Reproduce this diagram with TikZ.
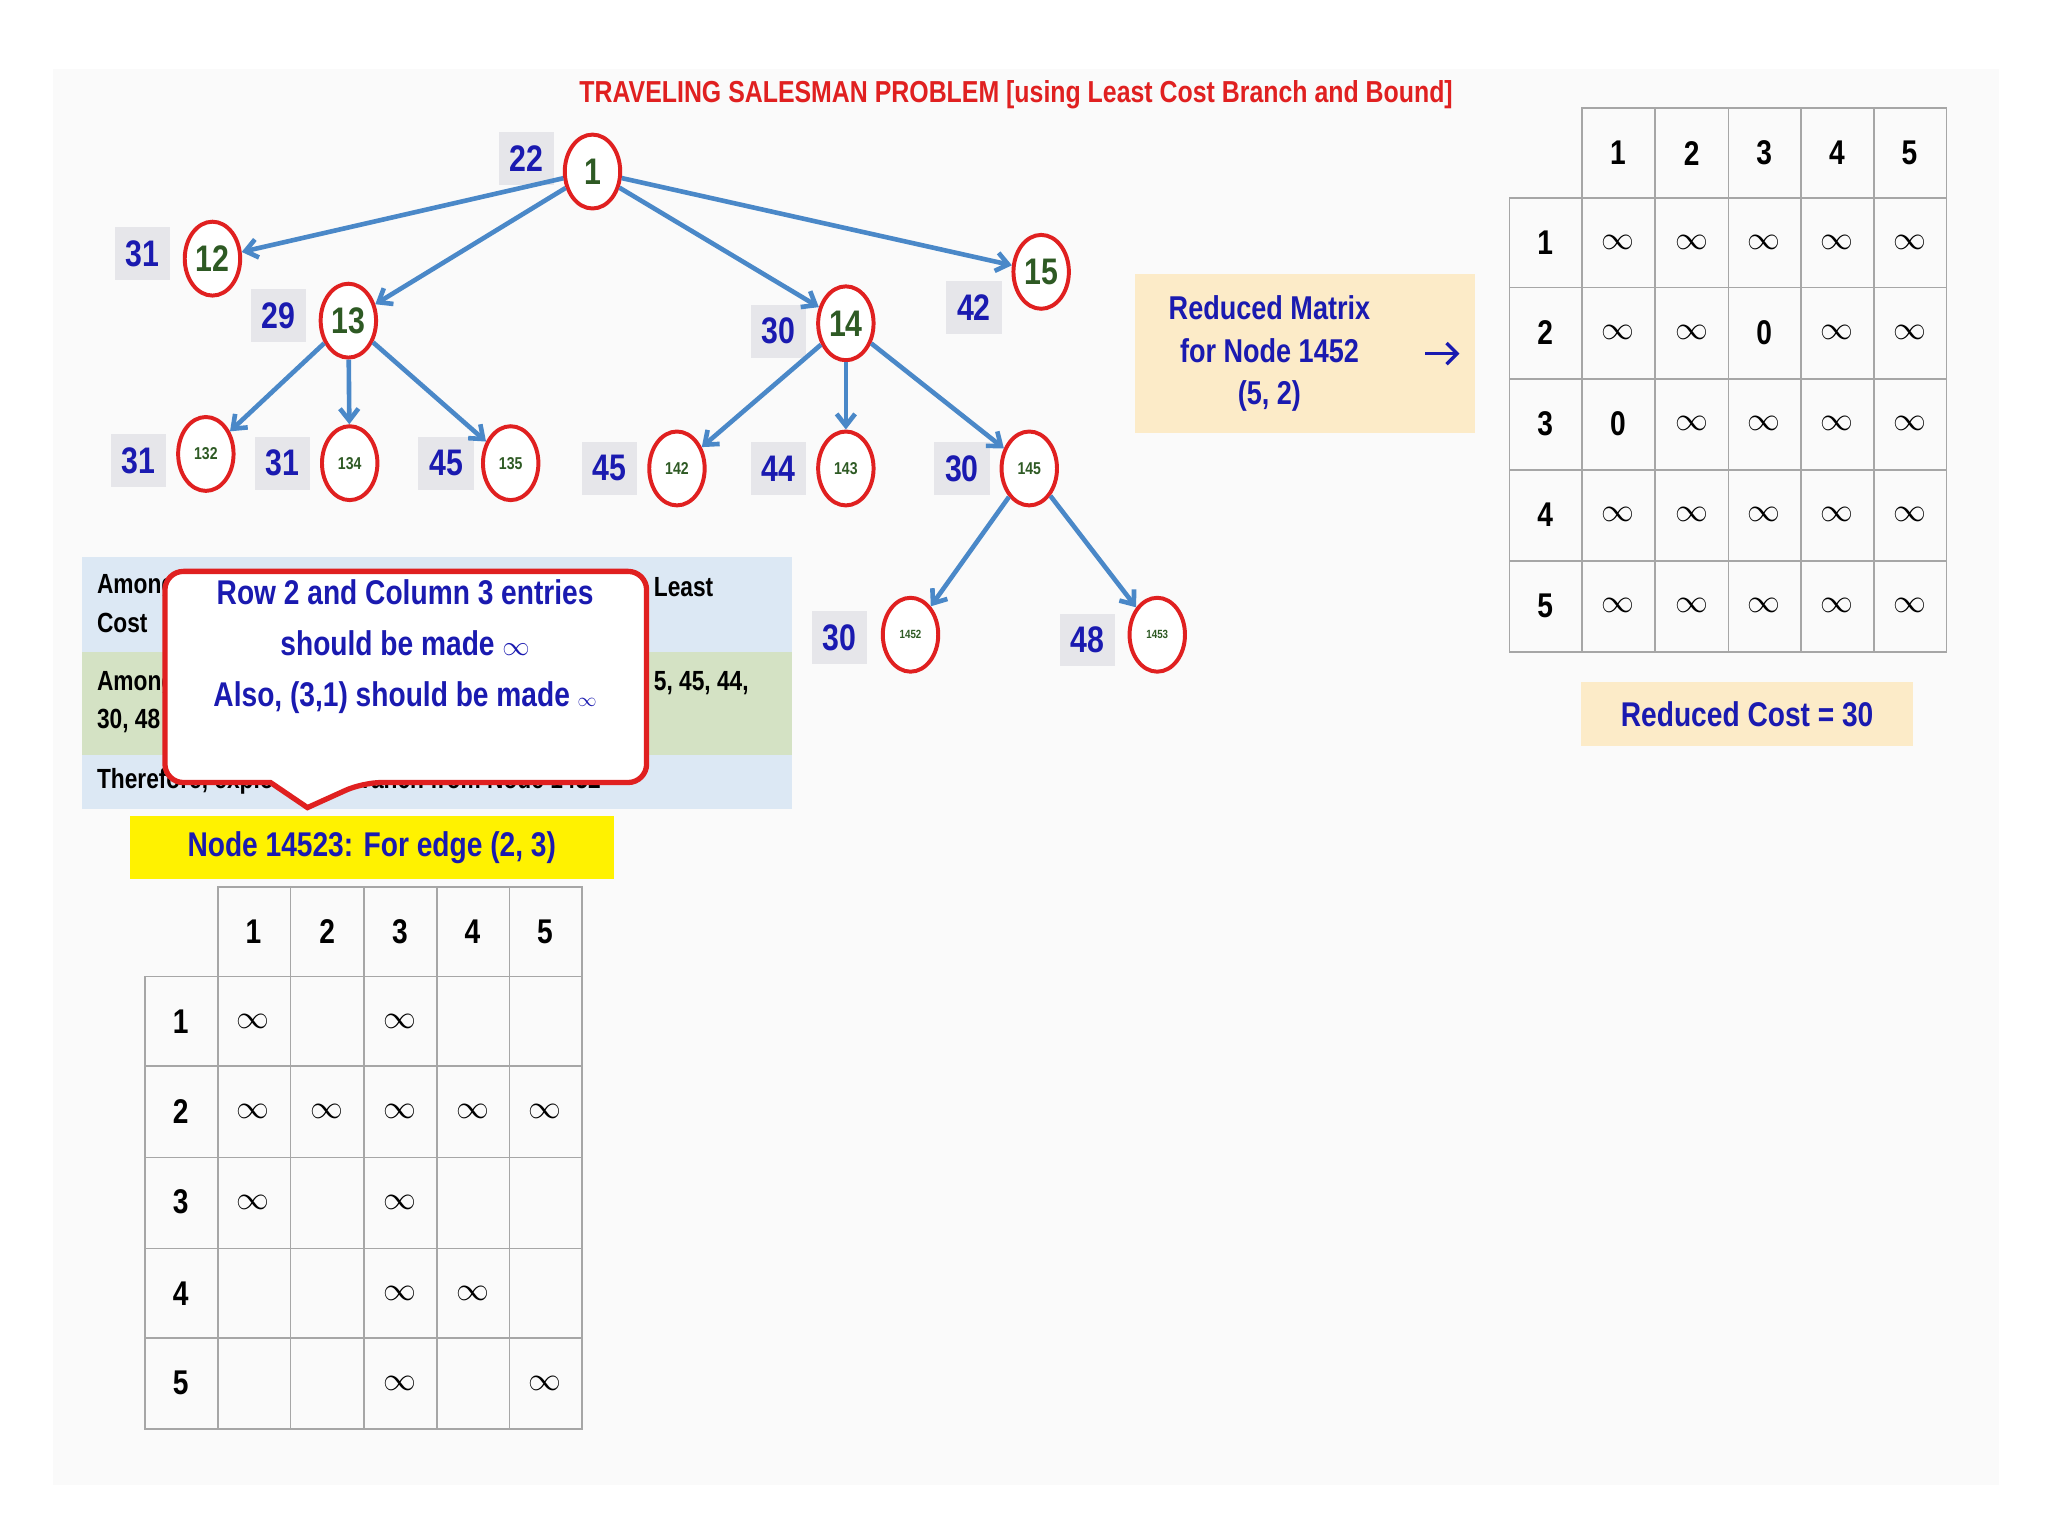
\documentclass[tikz,border=0pt]{standalone}
\usepackage{fontspec}
\setmainfont{Liberation Sans}
\newfontfamily\nar[FakeStretch=0.82]{Liberation Sans}
\usetikzlibrary{shapes.geometric,arrows.meta,shapes.callouts}
\definecolor{tblue}{HTML}{1A1AB0}
\definecolor{tred}{HTML}{E02020}
\definecolor{egray}{HTML}{E6E6EA}
\definecolor{eblue}{HTML}{4A88C8}
\definecolor{tgreen}{HTML}{2E5A24}
\definecolor{rblue}{HTML}{DCE8F4}
\definecolor{rgreen}{HTML}{D4E2C4}
\definecolor{beige}{HTML}{FCEBC8}
\begin{document}
\begin{tikzpicture}[x=1pt,y=-1pt,
  tn/.style={ellipse,draw=tred,line width=3pt,fill=white,minimum width=42pt,minimum height=56pt,inner sep=0pt,text=tgreen,font=\nar\bfseries\fontsize{28}{30}\selectfont},
  sn/.style={tn,font=\nar\bfseries\fontsize{13}{14}\selectfont},
  xn/.style={tn,font=\nar\bfseries\fontsize{9}{10}\selectfont},
  cst/.style={fill=egray,text=tblue,font=\nar\bfseries\fontsize{28}{30}\selectfont,minimum width=42pt,minimum height=40pt,inner sep=1pt},
  ed/.style={draw=eblue,line width=3.5pt,-{Straight Barb[length=9pt,width=14pt]}},
  mt/.style={font=\nar\bfseries\fontsize{26}{28}\selectfont},
  inf/.style={font=\fontsize{30}{30}\selectfont},
  tt/.style={font=\nar\bfseries\fontsize{21}{24}\selectfont,anchor=west,align=left}]
\useasboundingbox (0,0) rectangle (1552,1164);
\fill[white] (0,0) rectangle (1552,1164);
\fill[black!2] (40,52) rectangle (1515,1125);
\node[text=tred,font=\nar\bfseries\fontsize{23}{24}\selectfont] (title) at (770,72) {TRAVELING SALESMAN PROBLEM [using Least Cost Branch and Bound]};
% cost labels
\foreach \n/\x/\y/\t in {c1/399/120/22,c12/108/192/31,c13/211/239/29,c14/590/251/30,c15/738/233/42,c132/105/349/31,c134/214/351/31,c135/338/351/45,c142/462/355/45,c143/590/355/44,c145/729/355/30,c1452/636/483/30,c1453/824/485/48}
  \node[cst] (\n) at (\x,\y) {\t};
% tree nodes
\node[tn] (n1) at (449,130) {1};
\node[tn] (n12) at (161,196) {12};
\node[tn] (n13) at (264,243) {13};
\node[tn] (n14) at (641,245) {14};
\node[tn] (n15) at (789,206) {15};
\node[sn] (n132) at (156,344) {132};
\node[sn] (n134) at (265,351) {134};
\node[sn] (n135) at (387,351) {135};
\node[sn] (n142) at (513,355) {142};
\node[sn] (n143) at (641,355) {143};
\node[sn] (n145) at (780,355) {145};
\node[xn] (n1452) at (690,481) {1452};
\node[xn] (n1453) at (877,481) {1453};
\draw[ed] (n1) -- (n12);
\draw[ed] (n1) -- (n13);
\draw[ed] (n1) -- (n14);
\draw[ed] (n1) -- (n15);
\draw[ed] (n13) -- (n132);
\draw[ed] (n13) -- (n134);
\draw[ed] (n13) -- (n135);
\draw[ed] (n14) -- (n142);
\draw[ed] (n14) -- (n143);
\draw[ed] (n14) -- (n145);
\draw[ed] (n145) -- (n1452);
\draw[ed] (n145) -- (n1453);
% info table (partly covered by the callout, as in the reference)
\fill[rblue] (62,422) rectangle (600,494);
\fill[rgreen] (62,494) rectangle (600,572);
\fill[rblue] (62,572) rectangle (600,613);
\node[tt] (r1a) at (70,445) {Among};
\node[tt] (r1b) at (70,472) {Cost};
\node[tt] (r1c) at (492,445) {Least};
\node[tt] (r2a) at (70,518) {Among};
\node[tt] (r2b) at (70,546) {30, 48};
\node[tt] (r2c) at (492,518) {5, 45, 44,};
\node[tt] (r3) at (70,592) {Therefore, explore and branch from Node 1452};
% callout
\draw[tred,line width=4pt,fill=white,rounded corners=14pt]
  (125,433) -- (490,433) -- (490,593) -- (275,593) [sharp corners] -- (233,612) -- (205,593) [rounded corners=14pt] -- (125,593) -- cycle;
\node[text=tblue,font=\nar\bfseries\fontsize{26}{39}\selectfont,align=center] (call) at (307,490) {Row 2 and Column 3 entries\\should be made {\fontsize{20}{20}\selectfont$\infty$}\\Also, (3,1) should be made {\fontsize{14}{14}\selectfont$\infty$}};
% yellow
\node[fill=yellow,text=tblue,font=\nar\bfseries\fontsize{26}{28}\selectfont,minimum width=367pt,minimum height=48pt,anchor=north west,inner sep=0pt] (ybox) at (98,618) {Node 14523: For edge (2, 3)};
% bottom matrix
\draw[black!35,line width=1.2pt] (165,672) rectangle (441,740);
\foreach \x in {220,276,331,386} \draw[black!35,line width=1.2pt] (\x,672) -- (\x,740);
\draw[black!35,line width=1.2pt] (110,740) rectangle (441,1083);
\foreach \x in {165,220,276,331,386} \draw[black!35,line width=1.2pt] (\x,740) -- (\x,1083);
\foreach \y in {808,877,946,1014} \draw[black!35,line width=1.2pt] (110,\y) -- (441,\y);
\foreach \i/\x in {1/192,2/248,3/303,4/358,5/413} \node[mt] (bh\i) at (\x,706) {\i};
\foreach \i/\y in {1/774,2/842,3/911,4/980,5/1048} \node[mt] (bv\i) at (137,\y) {\i};
\foreach \x/\y in {192/774,303/774,192/842,248/842,303/842,358/842,413/842,192/911,303/911,303/980,358/980,303/1048,413/1048}
  \node[inf] at (\x,\y) {$\infty$};
% right matrix
\draw[black!35,line width=1.2pt] (1199,82) rectangle (1475,150);
\foreach \x in {1254,1310,1365,1420} \draw[black!35,line width=1.2pt] (\x,82) -- (\x,150);
\draw[black!35,line width=1.2pt] (1144,150) rectangle (1475,494);
\foreach \x in {1199,1254,1310,1365,1420} \draw[black!35,line width=1.2pt] (\x,150) -- (\x,494);
\foreach \y in {218,287,356,425} \draw[black!35,line width=1.2pt] (1144,\y) -- (1475,\y);
\foreach \i/\x in {1/1226,2/1282,3/1337,4/1392,5/1447} \node[mt] (rh\i) at (\x,116) {\i};
\foreach \i/\y in {1/184,2/252,3/321,4/390,5/459} \node[mt] (rv\i) at (1171,\y) {\i};
\foreach \r/\y in {1/184,2/252,3/321,4/390,5/459}
  \foreach \c/\x in {1/1226,2/1282,3/1337,4/1392,5/1447} {
    \pgfmathtruncatemacro\z{(\r==2 && \c==3) || (\r==3 && \c==1)}
    \ifnum\z=1 \node[mt] at (\x,\y) {0};
    \else \node[inf] at (\x,\y) {$\infty$};\fi
  }
% reduced matrix box
\fill[beige] (860,208) rectangle (1118,328);
\node[text=tblue,font=\nar\bfseries\fontsize{25}{32}\selectfont,align=center] (rm) at (962,268) {Reduced Matrix\\for Node 1452\\(5, 2)};
\coordinate (ra) at (1080,268);
\coordinate (rb) at (1106,268);
\draw[tblue,line width=2.5pt,-{Straight Barb[length=8pt,width=16pt]}] (ra) -- (rb);
\node[fill=beige,text=tblue,font=\nar\bfseries\fontsize{26}{28}\selectfont,minimum width=252pt,minimum height=48pt,inner sep=0pt] (rc) at (1324,541) {Reduced Cost = 30};
\end{tikzpicture}
\end{document}
